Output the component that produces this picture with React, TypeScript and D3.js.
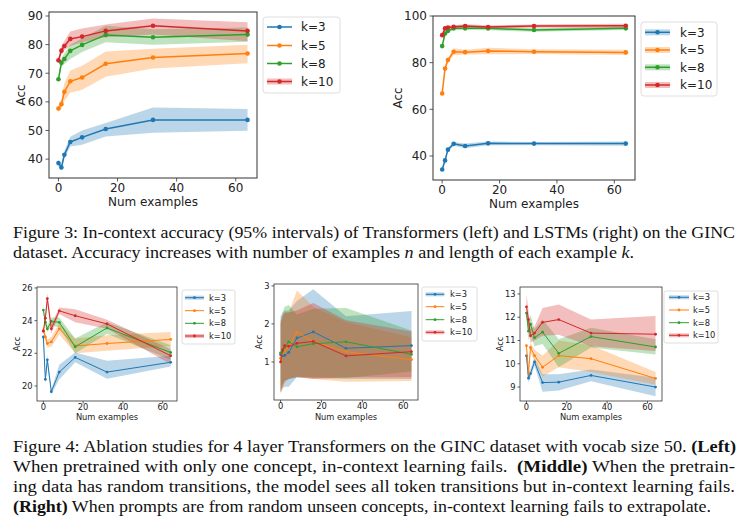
import React from "react";
import * as d3 from "d3";

// ---------- data ----------
const NUM_EXAMPLES = [0, 1, 2, 4, 8, 16, 32, 64];
const K_LABELS = ["k=3", "k=5", "k=8", "k=10"];
const COLORS = ["#1f77b4", "#ff7f0e", "#2ca02c", "#d62728"];
const X_TICKS = [0, 20, 40, 60];

// Figure 3 left: Transformers
const transMean = [
  [38.6, 37.1, 41.5, 46.0, 47.6, 50.5, 53.7, 53.7],
  [57.7, 59.2, 63.5, 67.2, 68.5, 73.3, 75.5, 76.9],
  [67.9, 73.7, 75.0, 77.8, 79.9, 83.4, 82.6, 83.5],
  [74.5, 77.9, 79.5, 82.0, 82.8, 84.8, 86.6, 84.8],
];
const transLo = [
  [37.3, 36.1, 40.2, 44.4, 45.0, 47.9, 49.2, 49.9],
  [56.5, 57.6, 60.3, 63.2, 64.2, 68.8, 71.7, 73.5],
  [67.0, 72.3, 73.2, 75.0, 77.4, 80.8, 80.0, 81.0],
  [73.6, 76.6, 78.0, 79.5, 80.8, 82.6, 83.5, 81.2],
];
const transHi = [
  [39.9, 38.2, 42.8, 47.8, 50.0, 52.6, 58.0, 57.5],
  [58.9, 61.0, 66.6, 71.0, 72.6, 77.6, 78.6, 80.0],
  [68.9, 75.2, 76.9, 80.0, 82.2, 86.6, 85.4, 86.0],
  [75.4, 79.4, 81.3, 84.6, 85.6, 87.0, 89.1, 87.8],
];

// Figure 3 right: LSTMs
const lstmMean = [
  [34.2, 38.1, 42.7, 45.2, 44.3, 45.4, 45.3, 45.3],
  [66.8, 77.5, 81.1, 84.7, 84.5, 85.0, 84.7, 84.4],
  [87.1, 92.5, 93.6, 94.7, 94.7, 94.7, 94.0, 94.7],
  [91.8, 94.7, 95.1, 95.4, 95.7, 95.3, 95.7, 95.8],
];
const lstmLo = [
  [33.4, 37.3, 41.9, 44.4, 43.3, 44.6, 44.6, 44.4],
  [66.2, 76.7, 80.1, 83.2, 83.5, 83.6, 83.7, 83.3],
  [86.4, 91.8, 92.9, 93.9, 94.0, 93.9, 93.2, 94.0],
  [91.2, 94.1, 94.5, 94.8, 94.9, 94.6, 95.0, 94.9],
];
const lstmHi = [
  [35.0, 38.9, 43.5, 46.0, 45.3, 46.2, 46.0, 46.2],
  [67.4, 78.3, 82.1, 86.2, 85.5, 86.4, 85.7, 85.5],
  [87.8, 93.2, 94.3, 95.5, 95.4, 95.5, 94.8, 95.4],
  [92.4, 95.3, 95.7, 96.0, 96.5, 96.0, 96.4, 96.7],
];

// Figure 4 left: one concept
const oneMean = [
  [23.0, 20.4, 21.6, 19.65, 20.85, 21.75, 20.85, 21.45],
  [23.4, 23.0, 22.6, 22.7, 23.5, 22.45, 22.6, 22.85],
  [24.65, 23.9, 23.5, 23.95, 23.9, 22.4, 23.55, 22.05],
  [23.35, 24.15, 25.35, 23.5, 24.6, 24.3, 23.8, 21.85],
];
const oneLo = [
  [22.8, 20.2, 21.3, 19.5, 20.4, 21.45, 20.45, 21.2],
  [23.2, 22.75, 22.35, 22.4, 23.15, 22.0, 22.15, 22.45],
  [24.45, 23.6, 23.3, 23.7, 23.6, 22.0, 23.2, 21.6],
  [23.15, 23.85, 25.0, 23.2, 24.4, 23.9, 23.5, 21.35],
];
const oneHi = [
  [23.2, 20.6, 21.9, 19.8, 21.3, 22.05, 21.55, 21.85],
  [23.6, 23.25, 22.85, 23.0, 23.85, 22.9, 23.1, 23.3],
  [24.85, 24.2, 23.7, 24.2, 24.2, 22.9, 23.9, 22.5],
  [23.55, 24.45, 25.7, 23.8, 24.8, 24.7, 24.05, 22.25],
];

// Figure 4 middle: random transitions
const randMean = [
  [1.19, 1.17, 1.17, 1.25, 1.63, 1.79, 1.36, 1.43],
  [1.1, 1.22, 1.3, 1.41, 1.78, 1.54, 1.27, 1.06],
  [1.24, 1.28, 1.38, 1.53, 1.4, 1.48, 1.53, 1.2],
  [1.0, 1.32, 1.43, 1.41, 1.49, 1.54, 1.16, 1.27],
];
const randLo = [
  [0.2, 0.3, 0.35, 0.35, 0.6, 0.58, 0.55, 0.55],
  [0.15, 0.3, 0.45, 0.55, 0.62, 0.55, 0.48, 0.5],
  [0.25, 0.4, 0.5, 0.55, 0.6, 0.6, 0.58, 0.75],
  [0.2, 0.35, 0.5, 0.55, 0.6, 0.55, 0.6, 0.6],
];
const randHi = [
  [2.2, 2.3, 2.35, 2.35, 2.6, 2.91, 2.2, 2.34],
  [2.05, 2.2, 2.3, 2.3, 2.88, 2.45, 2.05, 1.65],
  [2.1, 2.3, 2.45, 2.5, 2.25, 2.4, 2.42, 1.83],
  [2.0, 2.2, 2.3, 2.3, 2.35, 2.55, 2.1, 1.8],
];

// Figure 4 right: unseen concepts
const unseenMean = [
  [10.34, 9.38, 9.58, 10.08, 9.19, 9.21, 9.5, 9.0],
  [10.78, 9.6, 10.7, 10.35, 9.85, 10.35, 10.22, 9.37],
  [12.18, 11.4, 11.7, 11.12, 11.36, 10.45, 11.17, 10.72],
  [12.45, 11.9, 11.2, 11.32, 11.78, 11.9, 11.32, 11.27],
];
const unseenLo = [
  [10.22, 9.2, 9.4, 9.9, 8.8, 8.85, 9.25, 8.6],
  [10.65, 9.4, 10.5, 10.1, 9.45, 9.85, 9.65, 9.1],
  [12.0, 11.0, 11.3, 10.75, 10.85, 9.85, 10.7, 10.4],
  [12.0, 11.5, 10.9, 11.0, 11.2, 11.25, 10.75, 10.55],
];
const unseenHi = [
  [10.46, 9.6, 9.8, 10.25, 9.55, 9.55, 9.75, 9.4],
  [10.9, 9.85, 10.9, 10.6, 10.35, 11.0, 10.8, 9.65],
  [12.35, 11.8, 12.1, 11.5, 11.9, 11.05, 11.55, 11.05],
  [13.0, 12.3, 11.5, 11.6, 12.4, 12.55, 11.9, 12.05],
];

const TRANS_Y_TICKS = [40, 50, 60, 70, 80, 90];
const LSTM_Y_TICKS = [40, 60, 80, 100];
const ONE_Y_TICKS = [20, 22, 24, 26];
const RAND_Y_TICKS = [1, 2, 3];
const UNSEEN_Y_TICKS = [9, 10, 11, 12, 13];

// ---------- captions ----------
type Part = { t: string; b?: boolean; i?: boolean };
const CAPTIONS: { x: number; y: number; w: number; parts: Part[] }[] = [
  { x: 13, y: 238, w: 722, parts: [{ t: "Figure 3: In-context accuracy (95% intervals) of Transformers (left) and LSTMs (right) on the GINC" }] },
  { x: 13, y: 258, w: 621, parts: [{ t: "dataset. Accuracy increases with number of examples " }, { t: "n", i: true }, { t: " and length of each example " }, { t: "k", i: true }, { t: "." }] },
  { x: 13, y: 452, w: 723, parts: [{ t: "Figure 4: Ablation studies for 4 layer Transformers on the GINC dataset with vocab size 50. " }, { t: "(Left)", b: true }] },
  { x: 13, y: 472, w: 722, parts: [{ t: "When pretrained with only one concept, in-context learning fails.  " }, { t: "(Middle)", b: true }, { t: " When the pretrain-" }] },
  { x: 13, y: 492, w: 722, parts: [{ t: "ing data has random transitions, the model sees all token transitions but in-context learning fails." }] },
  { x: 13, y: 512, w: 698, parts: [{ t: "(Right)", b: true }, { t: " When prompts are from random unseen concepts, in-context learning fails to extrapolate." }] },
];

// ---------- layout ----------
type Spec = {
  left: number; right: number; top: number; bottom: number;
  yDomain: [number, number]; yTicks: number[];
  font: number; tick: number; pad: number; lw: number; r: number;
  legend: { x: number; y: number; w: number; h: number; rows: number[]; hx0: number; hx1: number; tx: number };
  legendBand: boolean[];
  ylabelX: number; ylabelY: number; xlabelY: number; xtickY: number;
};

const SPECS: Spec[] = [
  {
    left: 49, right: 257, top: 12, bottom: 178, yDomain: [33.4, 91.4], yTicks: TRANS_Y_TICKS,
    font: 12, tick: 3.5, pad: 2.5, lw: 1.5, r: 2.3,
    legend: { x: 263, y: 17, w: 77, h: 76, rows: [27, 45.5, 63.5, 81.5], hx0: 267, hx1: 292, tx: 301 },
    legendBand: [false, false, false, true],
    ylabelX: 24.5, ylabelY: 95, xlabelY: 206, xtickY: 192,
  },
  {
    left: 433, right: 635, top: 16, bottom: 180, yDomain: [29.7, 100], yTicks: LSTM_Y_TICKS,
    font: 12, tick: 3.5, pad: 2.5, lw: 1.5, r: 2.3,
    legend: { x: 641, y: 22, w: 76, h: 74, rows: [32.3, 50, 67.3, 85], hx0: 645, hx1: 670, tx: 680 },
    legendBand: [true, true, true, true],
    ylabelX: 401.5, ylabelY: 98, xlabelY: 207.5, xtickY: 194,
  },
  {
    left: 37, right: 177, top: 287, bottom: 401, yDomain: [19.08, 26.06], yTicks: ONE_Y_TICKS,
    font: 8.3, tick: 2.5, pad: 2, lw: 1, r: 1.4,
    legend: { x: 182, y: 290, w: 53, h: 54, rows: [297.7, 310.7, 323.3, 336], hx0: 185, hx1: 204, tx: 209 },
    legendBand: [true, false, false, true],
    ylabelX: 19.5, ylabelY: 344, xlabelY: 419.5, xtickY: 410,
  },
  {
    left: 274, right: 418, top: 284, bottom: 400, yDomain: [0, 3.05], yTicks: RAND_Y_TICKS,
    font: 8.3, tick: 2.5, pad: 2, lw: 1, r: 1.4,
    legend: { x: 422, y: 287, w: 55, h: 54, rows: [294.3, 306.7, 319.7, 332.3], hx0: 425.7, hx1: 444.3, tx: 450 },
    legendBand: [true, false, false, true],
    ylabelX: 262, ylabelY: 342, xlabelY: 419.5, xtickY: 409,
  },
  {
    left: 520, right: 662, top: 287, bottom: 401, yDomain: [8.4, 13.3], yTicks: UNSEEN_Y_TICKS,
    font: 8.3, tick: 2.5, pad: 2, lw: 1, r: 1.4,
    legend: { x: 664, y: 291, w: 54, h: 52, rows: [297.3, 310, 322.7, 335.3], hx0: 669, hx1: 689, tx: 693 },
    legendBand: [true, false, false, true],
    ylabelX: 503, ylabelY: 344, xlabelY: 419.5, xtickY: 410,
  },
];

const DATASETS = [
  { mean: transMean, lo: transLo, hi: transHi },
  { mean: lstmMean, lo: lstmLo, hi: lstmHi },
  { mean: oneMean, lo: oneLo, hi: oneHi },
  { mean: randMean, lo: randLo, hi: randHi },
  { mean: unseenMean, lo: unseenLo, hi: unseenHi },
];

const SANS = "'DejaVu Sans', sans-serif";
const BAND_ALPHA = 0.3;

function Chart({ spec, mean, lo, hi, id }: { spec: Spec; mean: number[][]; lo: number[][]; hi: number[][]; id: string }) {
  const x = d3.scaleLinear().domain([-3.2, 67.2]).range([spec.left, spec.right]);
  const y = d3.scaleLinear().domain(spec.yDomain).range([spec.bottom, spec.top]);
  const line = d3.line<number>().x((_, i) => x(NUM_EXAMPLES[i])).y((d) => y(d));
  const area = (k: number) =>
    d3.area<number>()
      .x((_, i) => x(NUM_EXAMPLES[i]))
      .y0((_, i) => y(lo[k][i]))
      .y1((_, i) => y(hi[k][i]))(NUM_EXAMPLES) || "";
  const lg = spec.legend;
  return (
    <g>
      <defs>
        <clipPath id={id}>
          <rect x={spec.left} y={spec.top} width={spec.right - spec.left} height={spec.bottom - spec.top} />
        </clipPath>
      </defs>
      <g clipPath={`url(#${id})`}>
        {mean.map((_, k) => (
          <path key={"b" + k} d={area(k)} fill={COLORS[k]} fillOpacity={BAND_ALPHA} stroke="none" />
        ))}
        {mean.map((m, k) => (
          <g key={"l" + k}>
            <path d={line(m) || ""} fill="none" stroke={COLORS[k]} strokeWidth={spec.lw} />
            {m.map((v, i) => (
              <circle key={i} cx={x(NUM_EXAMPLES[i])} cy={y(v)} r={spec.r} fill={COLORS[k]} />
            ))}
          </g>
        ))}
      </g>
      <rect x={spec.left} y={spec.top} width={spec.right - spec.left} height={spec.bottom - spec.top}
        fill="none" stroke="#333" strokeWidth={spec.font > 10 ? 1 : 0.8} />
      {spec.yTicks.map((t) => (
        <g key={"yt" + t}>
          <line x1={spec.left - spec.tick} x2={spec.left} y1={y(t)} y2={y(t)} stroke="#333" strokeWidth={0.8} />
          <text x={spec.left - spec.tick - spec.pad} y={y(t)} dy="0.36em" textAnchor="end"
            fontFamily={SANS} fontSize={spec.font} fill="#222">{t}</text>
        </g>
      ))}
      {X_TICKS.map((t) => (
        <g key={"xt" + t}>
          <line x1={x(t)} x2={x(t)} y1={spec.bottom} y2={spec.bottom + spec.tick} stroke="#333" strokeWidth={0.8} />
          <text x={x(t)} y={spec.xtickY} textAnchor="middle" fontFamily={SANS} fontSize={spec.font} fill="#222">{t}</text>
        </g>
      ))}
      <text x={(spec.left + spec.right) / 2} y={spec.xlabelY} textAnchor="middle" fontFamily={SANS}
        fontSize={spec.font} fill="#222">Num examples</text>
      <text transform={`translate(${spec.ylabelX},${spec.ylabelY}) rotate(-90)`} textAnchor="middle"
        fontFamily={SANS} fontSize={spec.font} fill="#222">Acc</text>
      <rect x={lg.x} y={lg.y} width={lg.w} height={lg.h} rx={spec.font > 10 ? 3 : 2}
        fill="#fff" fillOpacity={0.8} stroke="#d6d6d6" strokeWidth={0.8} />
      {K_LABELS.map((lab, k) => (
        <g key={lab}>
          {spec.legendBand[k] && (
            <line x1={lg.hx0} x2={lg.hx1} y1={lg.rows[k]} y2={lg.rows[k]} stroke={COLORS[k]}
              strokeOpacity={BAND_ALPHA} strokeWidth={spec.lw * 4} />
          )}
          <line x1={lg.hx0} x2={lg.hx1} y1={lg.rows[k]} y2={lg.rows[k]} stroke={COLORS[k]} strokeWidth={spec.lw} />
          <circle cx={(lg.hx0 + lg.hx1) / 2} cy={lg.rows[k]} r={spec.r} fill={COLORS[k]} />
          <text x={lg.tx} y={lg.rows[k]} dy="0.36em" fontFamily={SANS} fontSize={spec.font} fill="#222">{lab}</text>
        </g>
      ))}
    </g>
  );
}

function Caption({ x, y, w, parts }: { x: number; y: number; w: number; parts: Part[] }) {
  return (
    <text x={x} y={y} textLength={w} lengthAdjust="spacingAndGlyphs" fontFamily="'Liberation Serif', serif"
      fontSize={16} fill="#111" style={{ whiteSpace: "pre" }}>
      {parts.map((p, i) => (
        <tspan key={i} fontWeight={p.b ? "bold" : undefined} fontStyle={p.i ? "italic" : undefined}>{p.t}</tspan>
      ))}
    </text>
  );
}

export default function App() {
  return (
    <svg width={744} height={517} viewBox="0 0 744 517"
      style={{ position: "absolute", left: 0, top: 0, background: "#fff" }}>
      <rect width={744} height={517} fill="#fff" />
      {SPECS.map((s, i) => (
        <Chart key={i} id={"clip" + i} spec={s} mean={DATASETS[i].mean} lo={DATASETS[i].lo} hi={DATASETS[i].hi} />
      ))}
      {CAPTIONS.map((c, i) => (
        <Caption key={i} {...c} />
      ))}
    </svg>
  );
}
